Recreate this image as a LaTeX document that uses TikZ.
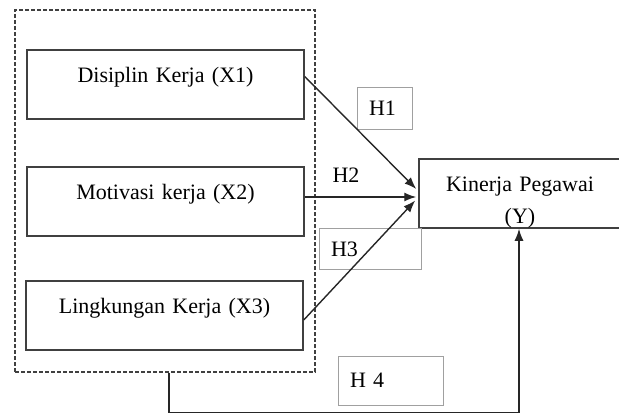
\documentclass[tikz,border=0pt]{standalone}
\usepackage{fontspec}
\setmainfont{Liberation Serif}
\usetikzlibrary{arrows.meta}
\definecolor{boxline}{HTML}{404040}
\definecolor{hline}{HTML}{A0A0A0}
\begin{document}
\begin{tikzpicture}[x=1pt,y=-1pt,
  txt/.style={font=\fontsize{22}{32}\selectfont},
  varbox/.style={txt, draw=boxline, line width=1.5pt, inner xsep=0pt, inner ysep=0pt,
    text height=32pt, text depth=37pt, align=center},
  grpbox/.style={draw=boxline, line width=1.2pt, dash pattern=on 4pt off 2pt,
    minimum width=300pt, minimum height=362pt, inner sep=0pt},
  hbox/.style={txt, draw=hline, line width=0.8pt, align=left, inner xsep=12pt, inner ysep=0pt},
  conn/.style={draw=black!85, line width=1.4pt, -{Latex[length=12pt,width=9pt]}}
]
\useasboundingbox (0,0) rectangle (619,415);
\node[grpbox] (grp) at (165,191) {};
\node[varbox, text width=277pt] (X1) at (165.5,84.5) {Disiplin Kerja (X1)};
\node[varbox, text width=277pt] (X2) at (165.5,201.5) {Motivasi kerja (X2)};
\node[varbox, text width=277pt] (X3) at (164.5,315.5) {Lingkungan Kerja (X3)};
\node[varbox, text width=202pt] (Y) at (520,193.5) {Kinerja Pegawai\\(Y)};
\node[hbox, text width=31pt, minimum height=42pt, text height=17pt, text depth=2pt] (H1) at (384.5,108) {H1};
\node[txt, inner sep=0pt] (H2) at (346,175) {H2};
\node[hbox, text width=78pt, minimum height=41pt, text height=17pt, text depth=2pt] (H3) at (370,248.5) {H3};
\node[hbox, text width=81pt, minimum height=49pt] (H4) at (390.5,380.5) {H 4};
\coordinate (h4s) at ([xshift=4pt]grp.south);
\draw[conn] ([yshift=8pt]X1.east) -- ([xshift=-2pt,yshift=4.5pt]Y.west);
\draw[conn] ([yshift=4.5pt]X2.east) -- ([xshift=-2pt,yshift=-3.5pt]Y.west);
\draw[conn] ([yshift=-4.5pt]X3.east) -- ([xshift=-3pt,yshift=-7pt]Y.west);
\draw[conn] (h4s) -- ++(0,40) -| ([xshift=-1pt]Y.south);
\end{tikzpicture}
\end{document}
